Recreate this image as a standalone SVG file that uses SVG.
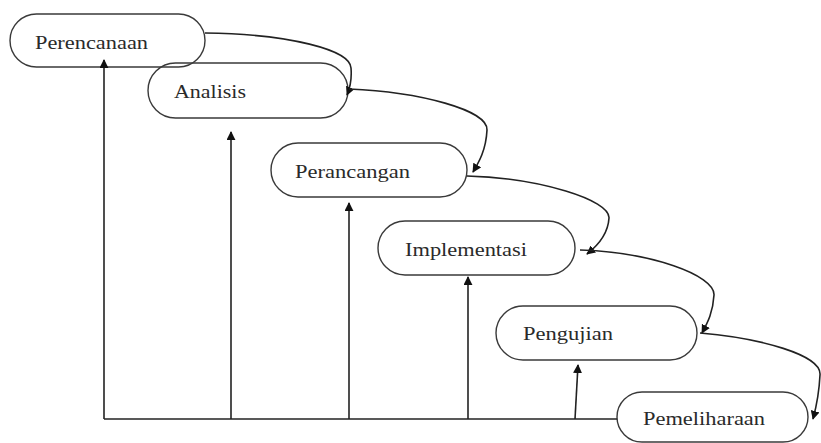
<svg xmlns="http://www.w3.org/2000/svg" width="821" height="443" viewBox="0 0 821 443">
<style>
.box{fill:none;stroke:#3a3a3a;stroke-width:1.4}
.lbl{font-family:'Liberation Serif','Times New Roman',Tinos,'DejaVu Serif','Noto Serif',FreeSerif,serif;font-size:19px;fill:#2a2a2a}
.ln{fill:none;stroke:#222;stroke-width:1.6}
</style>
<defs>
<marker id="ah" viewBox="0 0 10 10" refX="9" refY="5" markerWidth="9" markerHeight="9" markerUnits="userSpaceOnUse" orient="auto">
<path d="M0,0 L10,5 L0,10 z" fill="#111"/>
</marker>
</defs>
<rect width="821" height="443" fill="#fff"/>
<g id="n1"><rect class="box" x="10" y="14" width="195" height="53" rx="26.5"/><text class="lbl" x="35" y="49" textLength="113" lengthAdjust="spacingAndGlyphs">Perencanaan</text></g>
<g id="n2"><rect class="box" x="148" y="63" width="200" height="55" rx="27.5"/><text class="lbl" x="174" y="98" textLength="72" lengthAdjust="spacingAndGlyphs">Analisis</text></g>
<g id="n3"><rect class="box" x="271" y="143" width="196" height="54" rx="27"/><text class="lbl" x="295" y="178" textLength="115" lengthAdjust="spacingAndGlyphs">Perancangan</text></g>
<g id="n4"><rect class="box" x="378" y="221" width="197" height="54" rx="27"/><text class="lbl" x="405" y="256" textLength="122" lengthAdjust="spacingAndGlyphs">Implementasi</text></g>
<g id="n5"><rect class="box" x="496" y="306" width="201" height="54" rx="27"/><text class="lbl" x="523" y="340" textLength="90" lengthAdjust="spacingAndGlyphs">Pengujian</text></g>
<g id="n6"><rect class="box" x="617" y="392" width="191" height="50" rx="25"/><text class="lbl" x="643" y="425" textLength="122" lengthAdjust="spacingAndGlyphs">Pemeliharaan</text></g>
<g id="connectors">
<path class="ln" marker-end="url(#ah)" d="M205,33 C290,34 350,50 351,68 C352,80 350,88 347,95"/>
<path class="ln" marker-end="url(#ah)" d="M349,89 C420,92 488,110 487,130 C486,150 479,162 473,172"/>
<path class="ln" marker-end="url(#ah)" d="M467,176 C540,178 610,200 609,218 C608,235 596,247 587,254"/>
<path class="ln" marker-end="url(#ah)" d="M580,250 C650,252 715,275 714,295 C713,312 708,322 702,333"/>
<path class="ln" marker-end="url(#ah)" d="M700,333 C760,338 822,355 820,375 C819,395 816,408 813,419"/>
<path class="ln" d="M104,419 H617"/>
<path class="ln" marker-end="url(#ah)" d="M104,419 V60"/>
<path class="ln" marker-end="url(#ah)" d="M231,419 V132"/>
<path class="ln" marker-end="url(#ah)" d="M349,419 V203"/>
<path class="ln" marker-end="url(#ah)" d="M468,419 V277"/>
<path class="ln" marker-end="url(#ah)" d="M575,419 L578,365"/>
</g>
</svg>
